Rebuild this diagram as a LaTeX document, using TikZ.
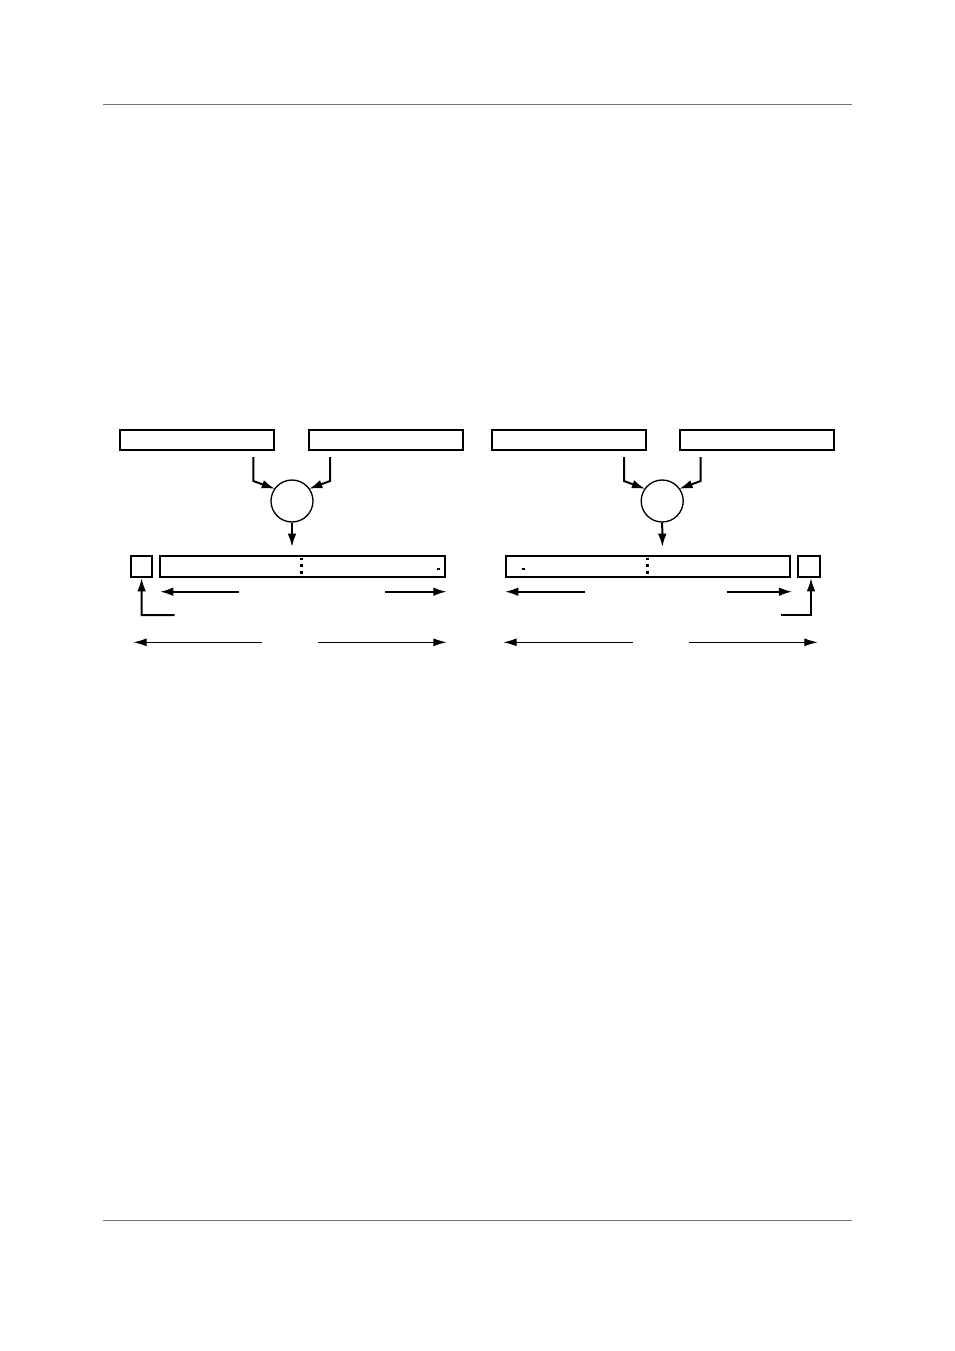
\documentclass[tikz,border=0pt]{standalone}
\usetikzlibrary{arrows.meta}
\begin{document}
\begin{tikzpicture}[x=0.6pt,y=-0.6pt,
  regbox/.style={draw,line width=1.2pt,inner sep=0pt},
  opcirc/.style={draw,line width=0.8pt,circle,inner sep=0pt,minimum size=25.2pt},
  thickarr/.style={line width=1.2pt,-{Latex[length=8pt,width=5.2pt]}},
  thinarr/.style={line width=0.7pt,-{Latex[length=8pt,width=4.8pt]}},
  rule/.style={draw=black!55,line width=0.6pt},
  dotmark/.style={fill=black,minimum size=1.5pt,inner sep=0pt}]
\useasboundingbox (0,0) rectangle (954,1351);
% header / footer rules
\coordinate (h1) at (103,104.3); \coordinate (h2) at (852,104.3);
\coordinate (f1) at (103,1220); \coordinate (f2) at (852,1220);
\draw[rule] (h1) -- (h2);
\draw[rule] (f1) -- (f2);

% ===== left group =====
\node[regbox,minimum width=92.4pt,minimum height=12pt] (A1) at (197,440) {};
\node[regbox,minimum width=92.4pt,minimum height=12pt] (A2) at (385.5,440) {};
\node[opcirc] (C1) at (292,501) {};
\coordinate (a1s) at (253.3,457); \coordinate (a1k) at (253.3,481);
\coordinate (a2s) at (330,457); \coordinate (a2k) at (330,481);
\draw[thickarr,shorten >=-0.5pt] (a1s) -- (a1k) -- (C1.145);
\draw[thickarr,shorten >=-0.5pt] (a2s) -- (a2k) -- (C1.35);
\coordinate (c1d) at (292,547);
\draw[thickarr] (C1.south) -- (c1d);
\node[regbox,minimum width=12.6pt,minimum height=12.6pt] (S1) at (141.6,566.5) {};
\node[regbox,minimum width=170.8pt,minimum height=12.6pt] (B1) at (302.6,566.5) {};
\node[dotmark] (d11) at (301.5,559) {};
\node[dotmark] (d12) at (301.5,565.7) {};
\node[dotmark] (d13) at (301.5,572.3) {};
\node[dotmark] (e1) at (438.3,569) {};
% row 1 arrows
\coordinate (l1a) at (239.3,591.7); \coordinate (l1b) at (160,591.7);
\coordinate (r1a) at (385,591.7); \coordinate (r1b) at (446.7,591.7);
\draw[thickarr] (l1a) -- (l1b);
\draw[thickarr] (r1a) -- (r1b);
% L connector
\coordinate (k1a) at (174.7,615); \coordinate (k1b) at (141.7,615);
\draw[thickarr] (k1a) -- (k1b) -- (S1.south);
% row 2 arrows
\coordinate (l2a) at (261.7,642.3); \coordinate (l2b) at (133.3,642.3);
\coordinate (r2a) at (318.3,642.3); \coordinate (r2b) at (446.7,642.3);
\draw[thinarr] (l2a) -- (l2b);
\draw[thinarr] (r2a) -- (r2b);

% ===== right group =====
\node[regbox,minimum width=92.4pt,minimum height=12pt] (A3) at (568.5,440) {};
\node[regbox,minimum width=92.4pt,minimum height=12pt] (A4) at (756.8,440) {};
\node[opcirc] (C2) at (662.2,501) {};
\coordinate (a3s) at (624,457); \coordinate (a3k) at (624,481);
\coordinate (a4s) at (700.7,457); \coordinate (a4k) at (700.7,481);
\draw[thickarr,shorten >=-0.5pt] (a3s) -- (a3k) -- (C2.145);
\draw[thickarr,shorten >=-0.5pt] (a4s) -- (a4k) -- (C2.35);
\coordinate (c2d) at (662.4,547);
\draw[thickarr] (C2.south) -- (c2d);
\node[regbox,minimum width=170.6pt,minimum height=12.6pt] (B2) at (647.9,566.5) {};
\node[regbox,minimum width=12.9pt,minimum height=12.6pt] (S2) at (809.2,566.5) {};
\node[dotmark] (d21) at (647.7,559) {};
\node[dotmark] (d22) at (647.7,565.7) {};
\node[dotmark] (d23) at (647.7,572.3) {};
\node[dotmark] (e2) at (523.3,569) {};
% row 1 arrows
\coordinate (l3a) at (585,591.7); \coordinate (l3b) at (505,591.7);
\coordinate (r3a) at (726.7,591.7); \coordinate (r3b) at (792.3,591.7);
\draw[thickarr] (l3a) -- (l3b);
\draw[thickarr] (r3a) -- (r3b);
% L connector
\coordinate (k2a) at (781,615); \coordinate (k2b) at (811,615);
\draw[thickarr] (k2a) -- (k2b) -- (k2b |- S2.south);
% row 2 arrows
\coordinate (l4a) at (632.7,642.3); \coordinate (l4b) at (503.3,642.3);
\coordinate (r4a) at (689,642.3); \coordinate (r4b) at (817.7,642.3);
\draw[thinarr] (l4a) -- (l4b);
\draw[thinarr] (r4a) -- (r4b);
\end{tikzpicture}
\end{document}
